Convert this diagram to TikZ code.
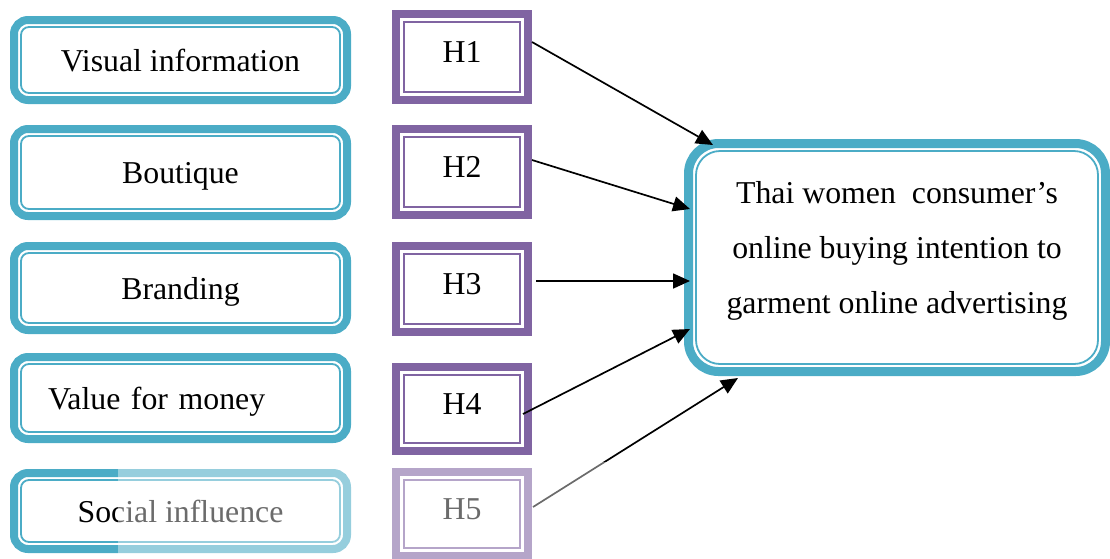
\documentclass[tikz,border=0pt]{standalone}
\usepackage{fontspec}
\setmainfont{Liberation Serif}
\usetikzlibrary{arrows.meta}
\definecolor{teal5}{HTML}{4BACC6}
\definecolor{purp4}{HTML}{8064A2}
\begin{document}
\begin{tikzpicture}[x=1pt,y=-1pt,
  every node/.style={outer sep=0pt},
  leftbox/.style={draw=teal5, line width=8pt, rounded corners=14pt, fill=white,
    minimum width=333pt, text height=22pt, text depth=0pt,
    font=\fontsize{31.8}{55}\selectfont},
  hbox/.style={draw=purp4, line width=8pt, fill=white,
    minimum width=132pt, text height=21.5pt, text depth=11pt,
    font=\fontsize{31.8}{55}\selectfont},
  bigbox/.style={draw=teal5, line width=9pt, rounded corners=30pt, fill=white,
    minimum width=417pt, minimum height=228pt},
  bigtext/.style={align=center, font=\fontsize{31.8}{55}\selectfont},
  tealin/.style={draw=teal5, line width=1.8pt, rounded corners=8pt},
  purpin/.style={draw=purp4, line width=2pt},
  arr/.style={line width=1.7pt, -{Triangle[length=17pt,width=15pt]}}
]
\useasboundingbox (0,0) rectangle (1110,558);

% left factor boxes
\node[leftbox, minimum height=80pt] (b1) at (180.5,60) {Visual information};
\node[leftbox, minimum height=87pt] (b2) at (180.5,172.5) {Boutique};
\node[leftbox, minimum height=84pt] (b3) at (180.5,288) {Branding};
\node[leftbox, minimum height=82pt, text width=265pt, align=left, inner xsep=34pt] (b4) at (180.5,398) {Value for money};
\node[leftbox, minimum height=76pt] (b5) at (180.5,511) {Social influence};
\foreach \n in {b1,b2,b3,b4,b5}
  \draw[tealin] ([shift={(7pt,-7pt)}]\n.north west) rectangle ([shift={(-7pt,7pt)}]\n.south east);

% hypothesis boxes
\node[hbox, minimum height=86pt] (h1) at (462,57) {H1};
\node[hbox, minimum height=86pt] (h2) at (462,172) {H2};
\node[hbox, minimum height=86pt] (h3) at (462,289) {H3};
\node[hbox, minimum height=84pt] (h4) at (462,409) {H4};
\node[hbox, minimum height=84pt] (h5) at (462,514) {H5};
\foreach \n in {h1,h2,h3,h4,h5}
  \draw[purpin] ([shift={(8pt,-8pt)}]\n.north west) rectangle ([shift={(-8pt,8pt)}]\n.south east);

% outcome box
\node[bigbox] (t) at (897,257.5) {};
\draw[tealin, rounded corners=24pt] ([shift={(7.5pt,-7.5pt)}]t.north west) rectangle ([shift={(-7.5pt,7.5pt)}]t.south east);
\node[bigtext] (tt) at (897,250.6) {Thai women\ \ consumer’s\\online buying intention to\\garment online advertising};

% connectors
\draw[arr] ([shift={(4pt,15pt)}]h1.east) -- ([shift={(24.5pt,-1.5pt)}]t.north west);
\draw[arr] ([shift={(4pt,12pt)}]h2.east) -- ([shift={(1.5pt,48.5pt)}]t.west);
\draw[arr] ([shift={(8pt,8pt)}]h3.east) -- ([shift={(1.5pt,-23.5pt)}]t.west);
\draw[arr] ([shift={(-5pt,-5pt)}]h4.east) -- ([shift={(1.5pt,-71.5pt)}]t.west);
\draw[arr] ([shift={(5pt,7pt)}]h5.east) -- ([shift={(49.5pt,-6.5pt)}]t.south west);

% faded (scanned watermark) area at the bottom
\fill[white, opacity=0.42] (118,462) rectangle (1110,560);
\end{tikzpicture}
\end{document}
